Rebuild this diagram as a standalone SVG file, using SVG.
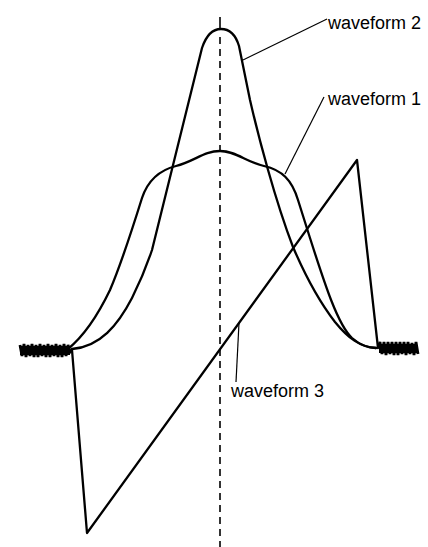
<svg xmlns="http://www.w3.org/2000/svg" width="428" height="547" viewBox="0 0 428 547">
<style>
.wave{fill:none;stroke:#000;stroke-width:2.3;stroke-linejoin:round;stroke-linecap:round}
.leader{fill:none;stroke:#000;stroke-width:1.2}
.axis{fill:none;stroke:#000;stroke-width:1.6}
.noise{fill:none;stroke:#000;stroke-width:2.8;stroke-linejoin:miter}
.lbl{font-family:"Liberation Sans",Arial,sans-serif;font-size:18px;fill:#000}
</style>
<rect width="428" height="547" fill="#fff"/>
<g id="axis">
<line class="axis" x1="220" y1="17" x2="220" y2="30"/>
<line class="axis" x1="220" y1="37" x2="220" y2="547" stroke-dasharray="7,5"/>
</g>
<g id="noise-left">
<rect x="20" y="346" width="50" height="9" fill="#000"/>
<polyline class="noise" points="20,345 22,356 24,344 26,357 28,345 30,356 32,344 34,357 36,345 38,357 40,344 42,356 44,345 46,357 48,344 50,357 52,345 54,356 56,344 58,357 60,345 62,357 64,344 66,356 68,345 70,352 72,350"/>
</g>
<g id="noise-right">
<rect x="379" y="344" width="38" height="9" fill="#000"/>
<polyline class="noise" points="378,348 380,342 382,354 384,342 386,355 388,342 390,354 392,342 394,355 396,342 398,355 400,342 402,354 404,342 406,355 408,342 410,354 412,343 414,355 416,342 418,354"/>
</g>
<g id="waveform1">
<path class="wave" d="M68,349 C85,335 98,315 110,290 C122,262 132,230 142,198 C148,180 160,170 176,166 C195,161 204,151 220,151 C236,151 246,162 264,166 C282,170 292,180 298,200 L310,238 C325,285 338,325 352,338 C360,345 368,348 376,348"/>
</g>
<g id="waveform2">
<path class="wave" d="M72,349 C100,347 118,325 132,298 C142,278 148,262 152,250 L202,48 C206,36 212,29 221,29 C230,29 236,36 239,46 L250,100 C258,135 275,200 293,247 C305,275 318,300 335,322 C348,338 360,347 376,348"/>
</g>
<g id="waveform3">
<polyline class="wave" points="72,350 87,533 357,160 378,348"/>
</g>
<g id="connectors">
<line class="leader" x1="243" y1="60" x2="327" y2="19"/>
<line class="leader" x1="285" y1="174" x2="324" y2="97"/>
<line class="leader" x1="239" y1="323" x2="236" y2="382"/>
</g>
<g id="labels">
<text class="lbl" x="328" y="29">waveform 2</text>
<text class="lbl" x="328" y="105">waveform 1</text>
<text class="lbl" x="231" y="397">waveform 3</text>
</g>
</svg>
